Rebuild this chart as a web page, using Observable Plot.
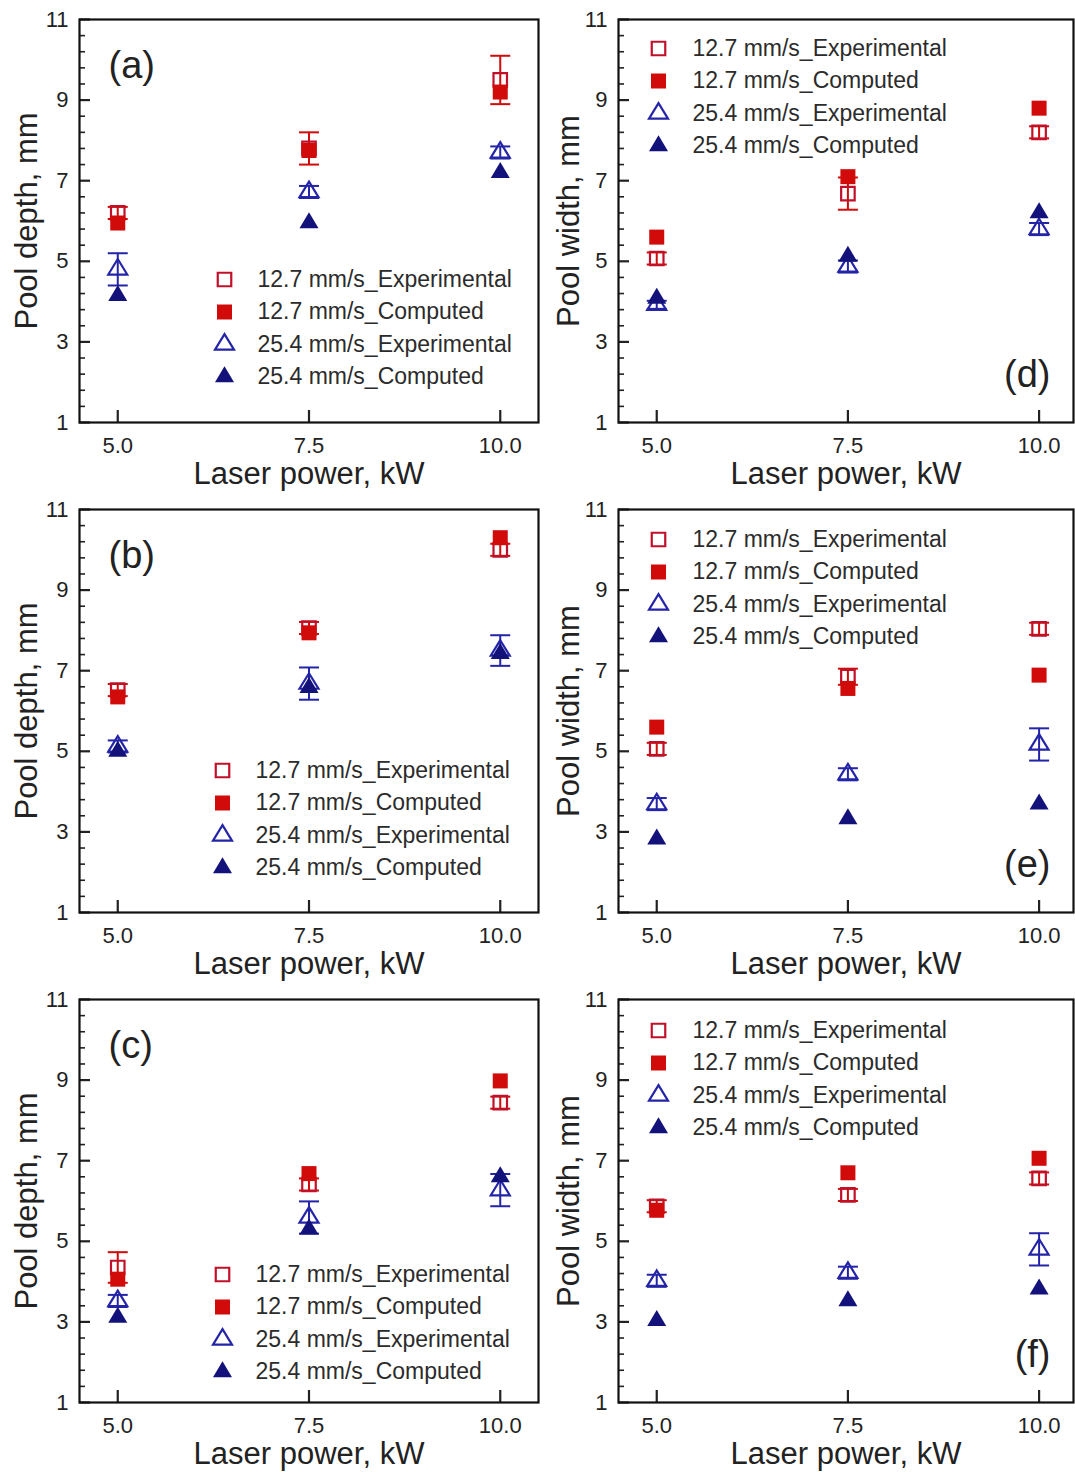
<!DOCTYPE html>
<html><head><meta charset="utf-8">
<script src="https://cdn.jsdelivr.net/npm/d3@7"></script>
<script src="https://cdn.jsdelivr.net/npm/@observablehq/plot@0.6"></script>
<style>
html,body{margin:0;padding:0;background:#fff;}
#fig{position:relative;width:1075px;height:1472px;background:#fff;overflow:hidden;font-family:"Liberation Sans",Arial,Helvetica,sans-serif;}
.panel{position:absolute;}
</style></head><body><div id="fig"></div>
<script>
// ---- shared categories / labels ----
const power = [5, 7.5, 10];
const xTickLabels = ["5.0", "7.5", "10.0"];
const yMajorTicks = [1, 3, 5, 7, 9, 11];
const seriesNames = ["12.7 mm/s_Experimental", "12.7 mm/s_Computed", "25.4 mm/s_Experimental", "25.4 mm/s_Computed"];
const panelLabels = ["(a)", "(b)", "(c)", "(d)", "(e)", "(f)"];
const depthTitle = "Pool depth, mm";
const widthTitle = "Pool width, mm";
const xTitle = "Laser power, kW";

// ---- panel (a): pool depth ----
const a_exp127 = [6.2, 7.8, 9.5];
const a_err127 = [0.15, 0.4, 0.6];
const a_comp127 = [5.95, 7.75, 9.2];
const a_exp254 = [4.8, 6.72, 7.7];
const a_err254 = [0.4, 0.15, 0.15];
const a_comp254 = [4.15, 5.95, 7.2];
// ---- panel (b): pool depth ----
const b_exp127 = [6.52, 8.06, 10.0];
const b_err127 = [0.15, 0.15, 0.15];
const b_comp127 = [6.35, 7.94, 10.3];
const b_exp254 = [5.12, 6.68, 7.5];
const b_err254 = [0.15, 0.4, 0.38];
const b_comp254 = [5.0, 6.58, 7.42];
// ---- panel (c): pool depth ----
const c_exp127 = [4.35, 6.41, 8.44];
const c_err127 = [0.38, 0.15, 0.15];
const c_comp127 = [4.06, 6.68, 8.98];
const c_exp254 = [3.52, 5.59, 6.27];
const c_err254 = [0.15, 0.4, 0.4];
const c_comp254 = [3.11, 5.3, 6.6];
// ---- panel (d): pool width ----
const d_exp127 = [5.07, 6.68, 8.2];
const d_err127 = [0.15, 0.4, 0.15];
const d_comp127 = [5.6, 7.1, 8.8];
const d_exp254 = [3.92, 4.87, 5.8];
const d_err254 = [0.1, 0.15, 0.15];
const d_comp254 = [4.08, 5.12, 6.2];
// ---- panel (e): pool width ----
const e_exp127 = [5.06, 6.85, 8.04];
const e_err127 = [0.15, 0.2, 0.15];
const e_comp127 = [5.6, 6.56, 6.89];
const e_exp254 = [3.69, 4.43, 5.17];
const e_err254 = [0.15, 0.15, 0.4];
const e_comp254 = [2.82, 3.32, 3.69];
// ---- panel (f): pool width ----
const f_exp127 = [5.87, 6.15, 6.56];
const f_err127 = [0.15, 0.15, 0.15];
const f_comp127 = [5.77, 6.7, 7.06];
const f_exp254 = [4.02, 4.22, 4.8];
const f_err254 = [0.15, 0.15, 0.4];
const f_comp254 = [3.03, 3.52, 3.81];

// ---- styling ----
const RED = "#d10a0a", RED_OPEN = "#c0102a", BLUE = "#2424a8", NAVY = "#12127a";
const FONT = "'Liberation Sans', Arial, Helvetica, sans-serif";
const capSymbol = {draw(ctx) { ctx.moveTo(-10, 0); ctx.lineTo(10, 0); }};
function triSymbol(w, h) {
  return {draw(ctx) { ctx.moveTo(0, -2 * h / 3); ctx.lineTo(w / 2, h / 3); ctx.lineTo(-w / 2, h / 3); ctx.closePath(); }};
}
function sqSymbol(s) {
  return {draw(ctx) { ctx.rect(-s / 2, -s / 2, s, s); }};
}
const openSq = {symbol: sqSymbol(13.5), fill: "none", stroke: RED_OPEN, strokeWidth: 2.2};
const fillSq = {symbol: sqSymbol(15), fill: RED, stroke: "none", strokeWidth: 0};
const openTri = {symbol: triSymbol(19, 15.5), fill: "none", stroke: BLUE, strokeWidth: 2.2};
const fillTri = {symbol: triSymbol(19, 16), fill: NAVY, stroke: "none", strokeWidth: 0};
const legendStyles = [openSq, fillSq, openTri, fillTri];

const yMinorTicks = d3.range(1, 11.0001, 0.4).map(v => +v.toFixed(2)).filter(v => Math.abs((v - 1) / 2 - Math.round((v - 1) / 2)) > 1e-6);

const panels = [
  {label: panelLabels[0], title: depthTitle, side: "L", top: 0, e127: a_exp127, s127: a_err127, c127: a_comp127, e254: a_exp254, s254: a_err254, c254: a_comp254, lg: {mx: 145, tx: 178, my: 260}},
  {label: panelLabels[1], title: depthTitle, side: "L", top: 490, e127: b_exp127, s127: b_err127, c127: b_comp127, e254: b_exp254, s254: b_err254, c254: b_comp254, lg: {mx: 143, tx: 176, my: 261}},
  {label: panelLabels[2], title: depthTitle, side: "L", top: 980, e127: c_exp127, s127: c_err127, c127: c_comp127, e254: c_exp254, s254: c_err254, c254: c_comp254, lg: {mx: 143, tx: 176, my: 275}},
  {label: panelLabels[3], title: widthTitle, side: "R", top: 0, e127: d_exp127, s127: d_err127, c127: d_comp127, e254: d_exp254, s254: d_err254, c254: d_comp254, lg: {mx: 40, tx: 74, my: 29}},
  {label: panelLabels[4], title: widthTitle, side: "R", top: 490, e127: e_exp127, s127: e_err127, c127: e_comp127, e254: e_exp254, s254: e_err254, c254: e_comp254, lg: {mx: 40, tx: 74, my: 30}},
  {label: panelLabels[5], title: widthTitle, side: "R", top: 980, e127: f_exp127, s127: f_err127, c127: f_comp127, e254: f_exp254, s254: f_err254, c254: f_comp254, lg: {mx: 40, tx: 74, my: 31}}
];

function errorMarks(rows, key, errKey, color) {
  return [
    Plot.ruleX(rows, {x: "p", y1: d => d[key] - d[errKey], y2: d => d[key] + d[errKey], stroke: color, strokeWidth: 2}),
    Plot.dot(rows, {x: "p", y: d => d[key] + d[errKey], symbol: capSymbol, fill: "none", stroke: color, strokeWidth: 2}),
    Plot.dot(rows, {x: "p", y: d => d[key] - d[errKey], symbol: capSymbol, fill: "none", stroke: color, strokeWidth: 2})
  ];
}
function seriesDot(rows, key, st) {
  return Plot.dot(rows, {x: "p", y: key, symbol: st.symbol, fill: st.fill, stroke: st.stroke, strokeWidth: st.strokeWidth});
}

const fig = document.getElementById("fig");
for (const cfg of panels) {
  const rows = power.map((p, i) => ({p, e127: cfg.e127[i], s127: cfg.s127[i], c127: cfg.c127[i], e254: cfg.e254[i], s254: cfg.s254[i], c254: cfg.c254[i]}));
  const isL = cfg.side === "L";
  const legend = [];
  legendStyles.forEach((st, k) => {
    legend.push(Plot.dot([seriesNames[k]], {x: null, y: null, frameAnchor: "top-left", dx: cfg.lg.mx, dy: cfg.lg.my + k * 32.5, symbol: st.symbol, fill: st.fill, stroke: st.stroke, strokeWidth: st.strokeWidth}));
    legend.push(Plot.text([seriesNames[k]], {x: null, y: null, frameAnchor: "top-left", dx: cfg.lg.tx, dy: cfg.lg.my + k * 32.5, text: d => d, textAnchor: "start", lineAnchor: "middle", fontSize: 23, fill: "#2b2b2b"}));
  });
  const chart = Plot.plot({
    width: isL ? 540 : 535,
    height: 490,
    marginLeft: isL ? 79 : 78,
    marginRight: 2,
    marginTop: 19,
    marginBottom: 68,
    style: {fontFamily: FONT, background: "transparent", color: "#222", overflow: "visible"},
    x: {domain: isL ? [4.5, 10.5] : [4.5, 10.45]},
    y: {domain: [1, 11]},
    marks: [
      Plot.axisY({ticks: yMinorTicks, tickSize: -6, tickFormat: () => "", strokeWidth: 1.6, label: null}),
      Plot.axisY({ticks: yMajorTicks, tickSize: -11, tickFormat: () => "", strokeWidth: 2.2, label: null}),
      Plot.axisY({ticks: yMajorTicks, tickSize: 0, tickPadding: 11, fontSize: 22, label: null, fill: "#222"}),
      Plot.axisX({ticks: power, tickSize: -12, tickFormat: () => "", strokeWidth: 2.2, label: null}),
      Plot.axisX({ticks: power, tickSize: 0, tickPadding: 15, tickFormat: d => xTickLabels[power.indexOf(d)], fontSize: 22, label: null, fill: "#222"}),
      Plot.frame({stroke: "#111", strokeWidth: 2.2}),
      Plot.text([xTitle], {x: null, y: null, frameAnchor: "bottom", dy: 61, lineAnchor: "bottom", text: d => d, fontSize: 31, fill: "#222"}),
      Plot.text([cfg.title], {x: null, y: null, frameAnchor: "left", rotate: -90, dx: isL ? -43 : -40, textAnchor: "middle", lineAnchor: "bottom", text: d => d, fontSize: 31, fill: "#222"}),
      isL
        ? Plot.text([cfg.label], {x: null, y: null, frameAnchor: "top-left", dx: 29, dy: 58, textAnchor: "start", lineAnchor: "bottom", text: d => d, fontSize: 38, fill: "#222"})
        : Plot.text([cfg.label], {x: null, y: null, frameAnchor: "bottom-right", dx: -23, dy: -36, textAnchor: "end", lineAnchor: "bottom", text: d => d, fontSize: 38, fill: "#222"}),
      ...errorMarks(rows, "e127", "s127", RED),
      seriesDot(rows, "e127", openSq),
      seriesDot(rows, "c127", fillSq),
      ...errorMarks(rows, "e254", "s254", BLUE),
      seriesDot(rows, "e254", openTri),
      seriesDot(rows, "c254", fillTri),
      ...legend
    ]
  });
  const wrap = document.createElement("div");
  wrap.className = "panel";
  wrap.style.left = (isL ? 0 : 540) + "px";
  wrap.style.top = cfg.top + "px";
  wrap.appendChild(chart);
  fig.appendChild(wrap);
}
</script></body></html>
